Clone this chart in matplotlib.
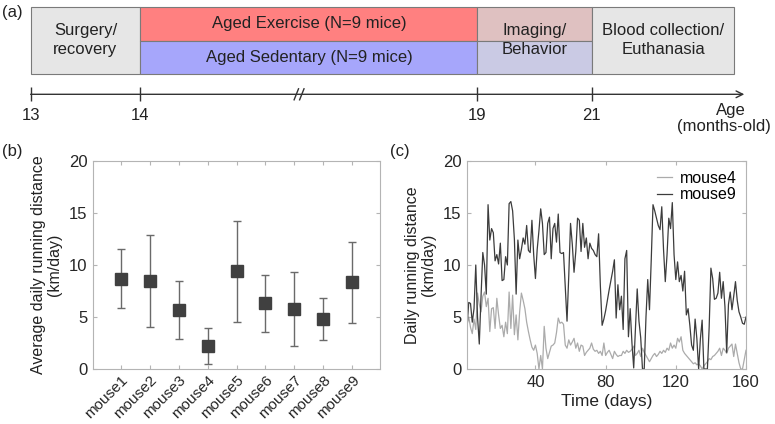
import matplotlib
matplotlib.use("Agg")
import matplotlib.pyplot as plt
import numpy as np

plt.rcParams['font.family'] = ['Liberation Sans', 'DejaVu Sans']

# ---------------- data ----------------
# panel (a): timeline
ages = [13, 14, 19, 21]
age_pos = [0.0, 1.0, 4.07, 5.11]          # positions on the broken time axis
axis_end = 6.50
break_pos = 2.445
stage_names = ["Surgery/\nrecovery", "Aged Exercise (N=9 mice)", "Aged Sedentary (N=9 mice)",
               "Imaging/\nBehavior", "Blood collection/\nEuthanasia"]
stage_start = [0.0, 1.0, 1.0, 4.07, 5.11]
stage_end = [1.0, 4.07, 4.07, 5.11, 6.41]
stage_row = ["full", "top", "bottom", "full", "full"]

# panel (b): average daily running distance
mice = ["mouse1", "mouse2", "mouse3", "mouse4", "mouse5", "mouse6", "mouse7", "mouse8", "mouse9"]
mean_km = [8.7, 8.45, 5.7, 2.2, 9.4, 6.3, 5.75, 4.8, 8.35]
sd_km = [2.85, 4.4, 2.8, 1.75, 4.85, 2.75, 3.55, 2.0, 3.9]

# panel (c): daily running distance, days 1..160
days = np.arange(1, 161)
mouse9 = [4.0, 6.4, 6.3, 4.5, 5.8, 10.0, 5.0, 2.4, 7.0, 11.2,
          10.0, 7.2, 15.8, 12.4, 13.5, 13.1, 10.4, 11.0, 10.1, 12.1,
          8.5, 8.6, 10.8, 10.0, 15.9, 16.1, 15.2, 12.5, 7.2, 12.4,
          10.6, 11.5, 12.6, 12.0, 13.8, 11.4, 11.2, 14.3, 11.0, 8.7,
          11.5, 13.3, 15.4, 14.0, 11.0, 11.2, 14.0, 14.6, 10.6, 13.5,
          14.0, 12.2, 14.9, 11.2, 11.1, 11.2, 8.0, 4.6, 9.0, 14.0,
          12.0, 9.3, 11.3, 14.5, 14.3, 11.3, 14.0, 11.7, 12.6, 10.6,
          12.1, 11.6, 11.4, 11.0, 10.8, 13.0, 8.0, 4.2, 4.8, 5.6,
          6.6, 7.6, 8.5, 9.4, 10.5, 4.9, 8.1, 5.7, 7.0, 3.8,
          10.6, 11.4, 3.1, 5.8, 2.5, 0.1, 4.0, 7.7, 4.6, 3.0,
          0.0, 0.0, 5.0, 8.6, 5.7, 10.5, 15.8, 15.2, 14.5, 13.8,
          13.4, 15.6, 11.5, 8.4, 11.0, 14.5, 13.5, 16.0, 11.0, 8.6,
          10.3, 8.4, 9.0, 7.5, 9.4, 5.2, 5.8, 4.2, 2.3, 1.8,
          4.8, 2.9, 0.0, 2.9, 4.7, 0.0, 0.0, 0.0, 4.0, 9.7,
          8.7, 6.7, 6.8, 7.3, 9.3, 6.8, 8.4, 6.0, 1.6, 6.2,
          7.4, 5.7, 7.0, 8.4, 6.6, 5.5, 5.0, 4.4, 4.3, 5.0]
mouse4 = [4.2, 5.0, 4.0, 3.4, 4.8, 3.8, 7.3, 6.2, 5.5, 7.0,
          7.4, 6.0, 6.8, 3.6, 5.8, 5.9, 3.9, 6.8, 5.2, 3.9,
          4.2, 3.1, 4.5, 3.4, 7.4, 3.9, 7.1, 3.3, 5.2, 2.8,
          5.5, 7.3, 6.6, 5.8, 4.5, 3.6, 2.8, 2.1, 1.8, 2.3,
          1.5, 0.0, 1.3, 0.0, 4.1, 2.0, 1.0, 1.6, 2.2, 2.3,
          2.5, 3.5, 4.9, 4.4, 4.5, 4.3, 2.3, 2.0, 2.8, 2.3,
          2.6, 2.95, 2.0, 2.5, 1.7, 2.3, 2.2, 1.3, 1.6, 1.8,
          2.0, 2.5, 1.9, 1.7, 1.8, 1.5, 1.7, 1.3, 2.5, 1.3,
          1.6, 1.8, 1.4, 1.0, 1.7, 1.4, 1.2, 1.3, 1.3, 1.7,
          1.5, 1.8, 1.6, 1.7, 1.9, 2.2, 1.3, 1.5, 1.8, 1.2,
          2.0, 1.6, 1.3, 1.0, 0.7, 1.0, 1.3, 1.5, 1.2, 1.4,
          1.7, 1.5, 1.8, 1.6, 2.0, 1.8, 2.5, 2.0, 2.3, 2.0,
          2.95, 2.6, 3.1, 1.8, 1.5, 1.3, 1.1, 0.9, 0.7, 0.5,
          0.6, 0.4, 0.5, 0.3, 0.0, 0.3, 0.5, 0.7, 1.0, 0.9,
          1.2, 1.3, 1.5, 1.7, 2.0, 1.3, 2.0, 1.8, 1.5, 2.0,
          2.2, 2.4, 1.2, 2.4, 1.5, 0.6, 0.0, 0.0, 0.9, 1.8]

# ---------------- styling ----------------
W, H = 775, 424
fig = plt.figure(figsize=(W / 100, H / 100), dpi=100)
txt = '#222222'
spine_c = '#b4b4b4'
fs_a = 12
fs = 11.5

# ---------------- panel (a) ----------------
unit_px = 109.8
x0_px = 30.6
axa = fig.add_axes([0, 1 - 140 / H, 1, 140 / H])
axa.set_xlim(-x0_px / unit_px, (W - x0_px) / unit_px)
axa.set_ylim(140, 0)
axa.axis('off')

face = {"Surgery/\nrecovery": '#e6e6e6', "Aged Exercise (N=9 mice)": '#ff8080',
        "Aged Sedentary (N=9 mice)": '#a6a6fb', "Blood collection/\nEuthanasia": '#e6e6e6'}
top, mid, bot = 6.7, 41.0, 74.0
edge = '#7a7a7a'
for name, s, e, row in zip(stage_names, stage_start, stage_end, stage_row):
    if row == "full" and name.startswith("Imaging"):
        axa.barh((top + mid) / 2, e - s, left=s, height=mid - top, color='#dfc1c1',
                 edgecolor=edge, linewidth=0.8)
        axa.barh((mid + bot) / 2, e - s, left=s, height=bot - mid, color='#cacae4',
                 edgecolor=edge, linewidth=0.8)
        axa.text((s + e) / 2, (top + bot) / 2, name, ha='center', va='center',
                 fontsize=fs_a, color=txt, linespacing=1.35)
        continue
    if row == "full":
        yc, h = (top + bot) / 2, bot - top
    elif row == "top":
        yc, h = (top + mid) / 2, mid - top
    else:
        yc, h = (mid + bot) / 2, bot - mid
    axa.barh(yc, e - s, left=s, height=h, color=face[name], edgecolor=edge, linewidth=0.8)
    axa.text((s + e) / 2, yc, name, ha='center', va='center', fontsize=fs_a, color=txt,
             linespacing=1.35)

ty = 94.3
axa.annotate('', xy=(axis_end, ty), xytext=(age_pos[0], ty),
             arrowprops=dict(arrowstyle='->', color='#333333', lw=1.0,
                             mutation_scale=12, shrinkA=0, shrinkB=0))
axa.vlines(age_pos, ty - 7.5, ty + 6.5, color='#333333', lw=1.0)
for dx in (-0.025, 0.025):
    axa.plot([break_pos + dx - 0.02, break_pos + dx + 0.02], [ty + 5.5, ty - 5.5],
             color='#333333', lw=1.0)
for a, p in zip(ages, age_pos):
    axa.text(p, 116, str(a), ha='center', va='center', fontsize=fs_a, color=txt)
right_edge = (771 - x0_px) / unit_px
age_center = (731 - x0_px) / unit_px
axa.text(age_center, 110, "Age", ha='center', va='center', fontsize=fs_a, color=txt)
axa.text(right_edge, 126, "(months-old)", ha='right', va='center', fontsize=fs_a,
         color=txt)
fig.text(2 / W, 1 - 13 / H, "(a)", fontsize=fs_a, color=txt, va='center')

# ---------------- panel (b) ----------------
axb = fig.add_axes([93 / W, 1 - 369 / H, (380 - 93) / W, 208 / H])
xpos = np.arange(1, len(mice) + 1)
axb.errorbar(xpos, mean_km, yerr=sd_km, fmt='s', color='#404040', markersize=8.6,
             ecolor='#6a6a6a', elinewidth=1.0, capsize=2.8, capthick=1.0)
axb.set_xlim(0.05, 9.95)
axb.set_ylim(0, 20)
axb.set_yticks([0, 5, 10, 15, 20])
axb.set_xticks(xpos)
axb.set_xticklabels(mice, rotation=45, ha='right', rotation_mode='anchor')
axb.set_ylabel("Average daily running distance\n(km/day)", fontsize=fs, color=txt,
               labelpad=5, linespacing=1.1)
fig.text(2 / W, 1 - 152 / H, "(b)", fontsize=fs_a, color=txt, va='center')

# ---------------- panel (c) ----------------
axc = fig.add_axes([467 / W, 1 - 369 / H, (746 - 467) / W, 208 / H])
axc.plot(days, mouse4, color='#ababab', lw=0.9, label='mouse4')
axc.plot(days, mouse9, color='#3c3c3c', lw=0.9, label='mouse9')
axc.set_xlim(1, 160)
axc.set_ylim(0, 20)
axc.set_xticks([40, 80, 120, 160])
axc.set_yticks([0, 5, 10, 15, 20])
axc.set_xlabel("Time (days)", fontsize=12.5, color=txt, labelpad=3)
axc.set_ylabel("Daily running distance\n(km/day)", fontsize=fs, color=txt, labelpad=5,
               linespacing=1.1)
axc.legend(loc='upper right', frameon=False, fontsize=fs, handlelength=0.9,
           handletextpad=0.5, labelspacing=0.1, borderaxespad=0.2)
fig.text(390 / W, 1 - 152 / H, "(c)", fontsize=fs_a, color=txt, va='center')

for ax in (axb, axc):
    for sp in ax.spines.values():
        sp.set_color(spine_c)
        sp.set_linewidth(0.8)
    ax.tick_params(direction='in', top=True, right=True, length=3, width=0.8,
                   color=spine_c, labelcolor='#262626', labelsize=12, pad=4)
axb.tick_params(axis='x', labelsize=11, pad=3)

fig.savefig("out.png", dpi=100)
